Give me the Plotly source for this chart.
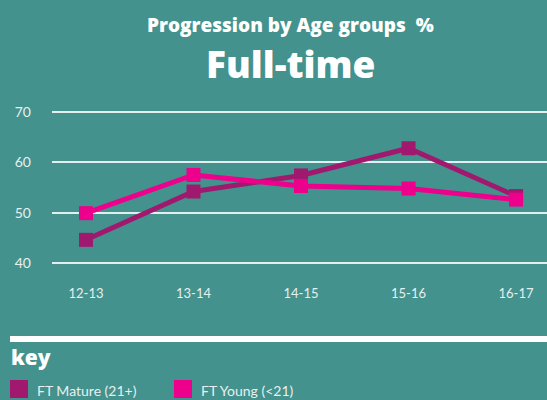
import plotly.graph_objects as go

categories = ["12-13", "13-14", "14-15", "15-16", "16-17"]
mature = [44.6, 54.2, 57.4, 62.8, 53.3]
young = [49.9, 57.5, 55.3, 54.8, 52.6]
series_names = ["FT Mature (21+)", "FT Young (<21)"]
series_colors = ["#A1196F", "#EC008C"]
y_ticks = [40, 50, 60, 70]

BG = "#43928D"
FONT = "Lato"
TITLE_FONT = "Open Sans"

fig = go.Figure()
for name, vals, col in zip(series_names, [mature, young], series_colors):
    fig.add_trace(go.Scatter(
        x=categories, y=vals, name=name, mode="lines+markers",
        line=dict(color=col, width=5),
        marker=dict(symbol="square", size=14, color=col),
        showlegend=False,
    ))

fig.update_layout(
    width=547, height=400,
    paper_bgcolor=BG, plot_bgcolor=BG,
    margin=dict(l=52, r=0, t=100, b=120),
    font=dict(family=FONT, color="#E6F0EF", size=13),
    xaxis=dict(
        type="category", range=[-0.316, 4.288],
        showgrid=False, zeroline=False, showline=False, ticks="",
        tickfont=dict(size=13, color="#E6F0EF"),
        ticklabelstandoff=4,
    ),
    yaxis=dict(
        range=[36.62, 72.39], tickvals=y_ticks,
        showgrid=True, gridcolor="rgba(255,255,255,0.85)", gridwidth=1.5,
        zeroline=False, showline=False, ticks="",
        tickfont=dict(size=14, color="#E6F0EF"),
        ticklabelstandoff=20,
    ),
)

# Titles
fig.add_annotation(text="Progression by Age groups  %", xref="paper", yref="paper",
                   x=(290 - 52) / 495, y=1 + (100 - 25) / 180, showarrow=False,
                   font=dict(family=TITLE_FONT, size=19, color="white", weight=800),
                   xanchor="center", yanchor="middle")
fig.add_annotation(text="Full-time", xref="paper", yref="paper",
                   x=(290 - 52) / 495, y=1 + (100 - 63) / 180, showarrow=False,
                   font=dict(family=TITLE_FONT, size=37, color="white", weight=800),
                   xanchor="center", yanchor="middle")

# Key separator
fig.add_shape(type="line", xref="paper", yref="paper",
              x0=(10 - 52) / 495, x1=1.0, y0=-(339 - 280) / 180, y1=-(339 - 280) / 180,
              line=dict(color="white", width=6))
fig.add_annotation(text="key", xref="paper", yref="paper",
                   x=(9 - 52) / 495, y=-(357 - 280) / 180, showarrow=False,
                   font=dict(family=TITLE_FONT, size=21, color="white", weight=800),
                   xanchor="left", yanchor="middle")

key_x = [10, 174]
for name, col, kx in zip(series_names, series_colors, key_x):
    fig.add_shape(type="rect", xref="paper", yref="paper",
                  x0=(kx - 52) / 495, x1=(kx + 18 - 52) / 495,
                  y0=-(398 - 280) / 180, y1=-(380 - 280) / 180,
                  fillcolor=col, line=dict(width=0))
    fig.add_annotation(text=name, xref="paper", yref="paper",
                       x=(kx + 25 - 52) / 495, y=-(390 - 280) / 180, showarrow=False,
                       font=dict(family=FONT, size=14, color="#E6F0EF"),
                       xanchor="left", yanchor="middle")

fig.write_html("out.html", config={"displayModeBar": False},
               post_script="document.body.style.margin='0';")
